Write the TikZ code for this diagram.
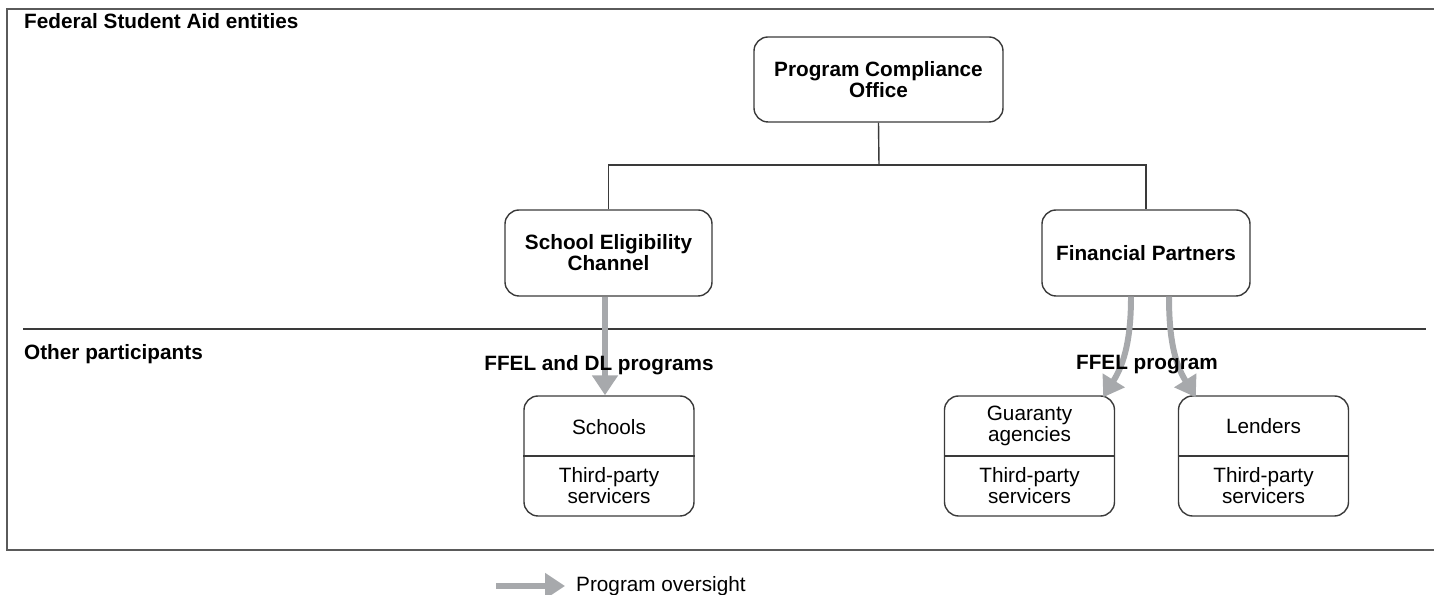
\documentclass[tikz,border=0pt]{standalone}
\usepackage{fontspec}
\setmainfont{Liberation Sans}
\usepackage{xcolor}
\definecolor{fsaline}{HTML}{3A3A3A}
\definecolor{fsaframe}{HTML}{5A5A5A}
\definecolor{fsaarrow}{HTML}{A7A9AC}
\usetikzlibrary{arrows.meta, positioning}

\begin{document}
\begin{tikzpicture}[
    office/.style={rectangle, rounded corners=8pt, draw=fsaline,
                   line width=0.8pt, align=center, font=\fsafont\bfseries},
    partybox/.style={rectangle, rounded corners=8pt, draw=fsaline,
                     line width=0.8pt, minimum width=3.4cm,
                     minimum height=2.4cm, inner sep=0pt},
    party/.style={align=center, font=\fsafont},
    heading/.style={anchor=west, font=\fsafont\bfseries},
    oversight/.style={draw=fsaarrow, line width=3.4pt,
                      -{Triangle[length=0.4cm, width=0.5cm]}},
    branch/.style={draw=fsaline, line width=0.8pt}
  ]
    \providecommand\fsafont{\fontsize{11.8}{12}\selectfont}
    \useasboundingbox (0,0) rectangle (28.68,11.9);

    % Frame and divider between the two levels
    \draw[fsaframe, line width=1.1pt] (28.68,11.72) -- (0.14,11.72)
      -- (0.14,0.90) -- (28.68,0.90);
    \draw[fsaline, line width=0.8pt] (0.46,5.32) -- (28.52,5.32);

    % Section headings
    \node[heading] (fsahead) at (0.36,11.48) {Federal Student Aid entities};
    \node[heading] (othhead) at (0.36,4.82) {Other participants};

    % Federal Student Aid offices
    \node[office, minimum width=4.98cm, minimum height=1.70cm] (pco)
      at (17.57,10.31) {Program Compliance\\Office};
    \node[office, minimum width=4.14cm, minimum height=1.72cm] (sec)
      at (12.17,6.84) {School Eligibility\\Channel};
    \node[office, minimum width=4.16cm, minimum height=1.72cm] (fp)
      at (22.92,6.84) {Financial Partners};

    % Reporting lines
    \coordinate (junc) at (17.58,8.60);
    \draw[branch] (pco.south) -- (junc);
    \draw[branch] (sec.north) |- (junc) -| (fp.north);

    % Participant boxes
    \node[partybox] (sch)  at (12.18,2.78) {};
    \node[partybox] (gua)  at (20.59,2.78) {};
    \node[partybox] (lend) at (25.27,2.78) {};
    \draw[line width=0.8pt, fsaline] (sch.west)  -- (sch.east);
    \draw[line width=0.8pt, fsaline] (gua.west)  -- (gua.east);
    \draw[line width=0.8pt, fsaline] (lend.west) -- (lend.east);

    \node[party] (schtop)  at ([yshift=0.58cm]sch.center)  {Schools};
    \node[party] (schbot)  at ([yshift=-0.6cm]sch.center)  {Third-party\\servicers};
    \node[party] (guatop)  at ([yshift=0.6cm]gua.center)   {Guaranty\\agencies};
    \node[party] (guabot)  at ([yshift=-0.6cm]gua.center)  {Third-party\\servicers};
    \node[party] (lendtop) at ([yshift=0.6cm]lend.center)  {Lenders};
    \node[party] (lendbot) at ([yshift=-0.6cm]lend.center) {Third-party\\servicers};

    % Program oversight arrows
    \draw[oversight] ([xshift=-0.07cm]sec.south) -- ([xshift=-0.08cm]sch.north);
    \draw[oversight] ([xshift=-0.3cm]fp.south)
      to[out=-90, in=58] ([xshift=-0.24cm, yshift=-0.04cm]gua.north east);
    \draw[oversight] ([xshift=0.46cm]fp.south)
      to[out=-90, in=122] ([xshift=0.36cm, yshift=-0.04cm]lend.north west);

    % Program labels
    \node[font=\fsafont\bfseries] (ffeldl) at (11.98,4.60) {FFEL and DL programs};
    \node[font=\fsafont\bfseries] (ffel)   at (22.94,4.60) {FFEL program};

    % Legend
    \coordinate (legstart) at (9.92,0.18);
    \coordinate (legend)   at (11.30,0.18);
    \draw[oversight] (legstart) -- (legend);
    \node[party, anchor=west] (legtext) at (11.40,0.18) {Program oversight};
  \end{tikzpicture}
\end{document}
